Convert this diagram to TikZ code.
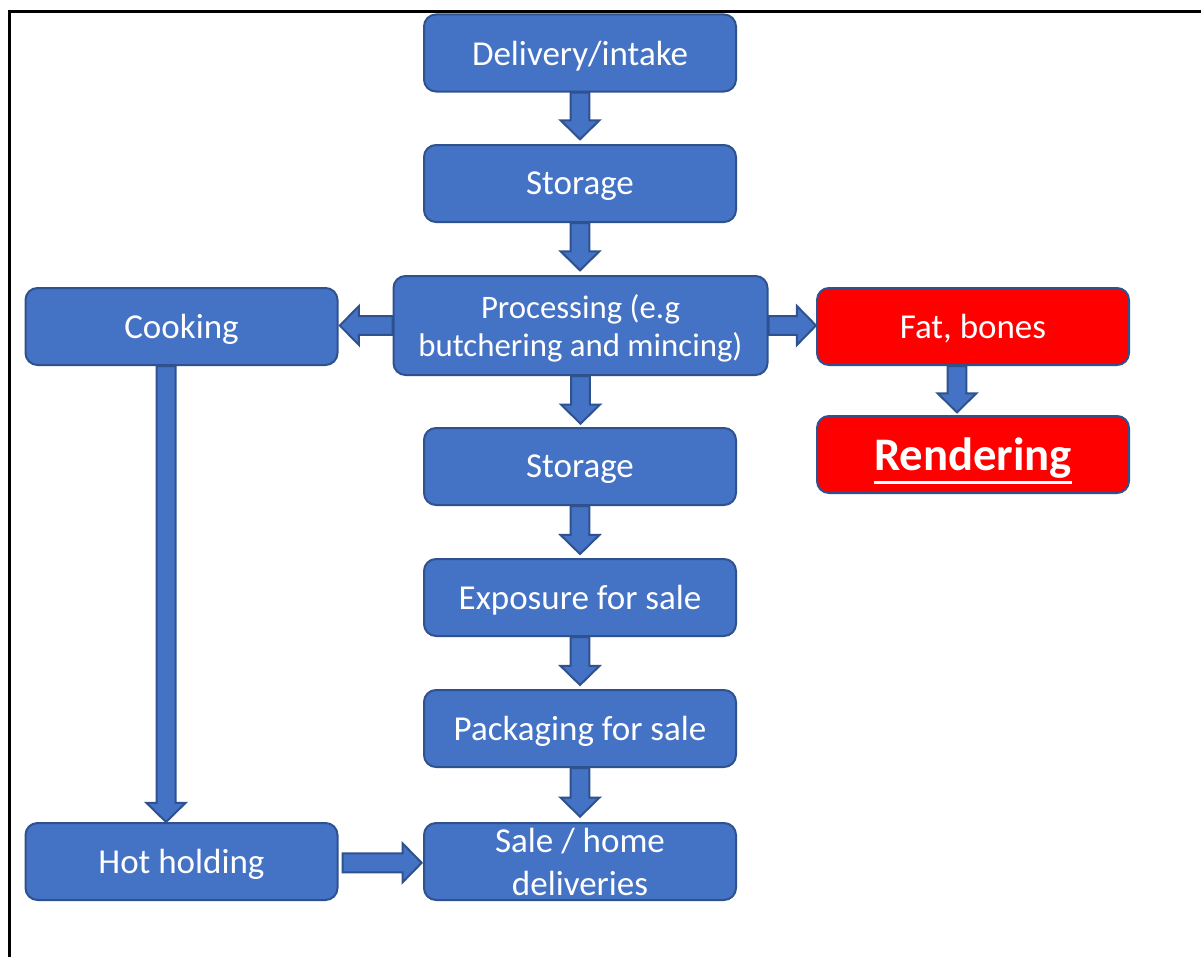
\documentclass[tikz,border=0pt]{standalone}
\usepackage{fontspec}
\setmainfont{Carlito}
\usetikzlibrary{calc}

\definecolor{boxblue}{HTML}{4472C4}
\definecolor{edgeblue}{HTML}{2F528F}
\definecolor{boxred}{HTML}{FF0000}

% heavy underline set a fixed distance below the baseline
\newcommand{\heavyuline}[1]{%
  \setbox0=\hbox{#1}\copy0\llap{\raisebox{-9.5pt}{\rule{\wd0}{2pt}}}}

\tikzset{
  stepbox/.style={draw=edgeblue, line width=1.5pt, fill=boxblue, rounded corners=9pt,
    minimum width=234pt, minimum height=57.75pt, inner sep=0pt, text=white,
    text depth=0pt, font=\fontsize{26.25pt}{28.5pt}\selectfont, align=center},
  wastebox/.style={stepbox, fill=boxred},
  blockarrow/.style={draw=edgeblue, line width=1.5pt, fill=boxblue, line join=miter},
  frameline/.style={draw=black, line width=2.25pt},
}

% block arrow pointing down: shaft x taken from the start point
\newcommand{\vblock}[2]{%
  \draw[blockarrow] let \p1=(#1), \p2=(#2) in
    (\x1-7.1pt,\y1) -- (\x1-7.1pt,\y2+14.3pt) -- (\x1-14.6pt,\y2+14.3pt) -- (\x1,\y2)
    -- (\x1+14.6pt,\y2+14.3pt) -- (\x1+7.1pt,\y2+14.3pt) -- (\x1+7.1pt,\y1) -- cycle;}
% horizontal block arrow: #3 = 1 pointing right, -1 pointing left
\newcommand{\hblock}[3]{%
  \draw[blockarrow] let \p1=(#1), \p2=(#2) in
    (\x1,\y1-7.1pt) -- ({\x2-(#3)*14.3pt},\y1-7.1pt) -- ({\x2-(#3)*14.3pt},\y1-14.6pt)
    -- (\x2,\y1) -- ({\x2-(#3)*14.3pt},\y1+14.6pt) -- ({\x2-(#3)*14.3pt},\y1+7.1pt)
    -- (\x1,\y1+7.1pt) -- cycle;}

\begin{document}
\begin{tikzpicture}[x=0.75pt, y=-0.75pt]
  \useasboundingbox (0,0) rectangle (1201,956);
  \fill[white] (0,0) rectangle (1201,956);

  % page frame (top and left edges)
  \draw[frameline] (9,957) -- (9,12) -- (1202,12);

  % main column
  \node[stepbox] (deliv) at (580,53) {Delivery/intake};
  \node[stepbox] (stor1) at (580,183.5) {Storage};
  \node[stepbox, minimum width=280.5pt, minimum height=74.25pt,
        font=\fontsize{24.6pt}{28.5pt}\selectfont] (proc) at (580.5,325.5)
    {Processing (e.g\\butchering and mincing)};
  \node[stepbox] (stor2) at (580,466.5) {Storage};
  \node[stepbox] (expo) at (580,597.5) {Exposure for sale};
  \node[stepbox] (pack) at (580,728.5) {Packaging for sale};
  \node[stepbox, font=\fontsize{26.25pt}{32.25pt}\selectfont] (sale) at (580,861.5)
    {Sale / home\\deliveries};

  % side branches
  \node[stepbox] (cook) at (181.5,326.5) {Cooking};
  \node[stepbox] (hot) at (181.5,861.5) {Hot holding};
  \node[wastebox] (fat) at (973,326.5) {Fat, bones};
  \node[wastebox, font=\fontsize{35pt}{40pt}\selectfont\bfseries] (rend) at (973,454.5)
    {\heavyuline{Rendering}};

  % connectors
  \vblock{deliv.south}{[yshift=3.5pt]stor1.north}
  \vblock{stor1.south}{[yshift=3.5pt]proc.north}
  \vblock{proc.south}{[yshift=2.5pt]stor2.north}
  \vblock{stor2.south}{[yshift=3pt]expo.north}
  \vblock{expo.south}{[yshift=3pt]pack.north}
  \vblock{pack.south}{[yshift=4pt]sale.north}
  \hblock{proc.west}{[xshift=1pt]cook.east}{-1}
  \hblock{proc.east}{fat.west}{1}
  \vblock{[xshift=-11.6pt]cook.south}{hot.north}
  \vblock{[xshift=-12pt]fat.south}{[yshift=2pt]rend.north}
  \hblock{[xshift=3pt,yshift=-1pt]hot.east}{[xshift=-1pt]sale.west}{1}
\end{tikzpicture}
\end{document}
